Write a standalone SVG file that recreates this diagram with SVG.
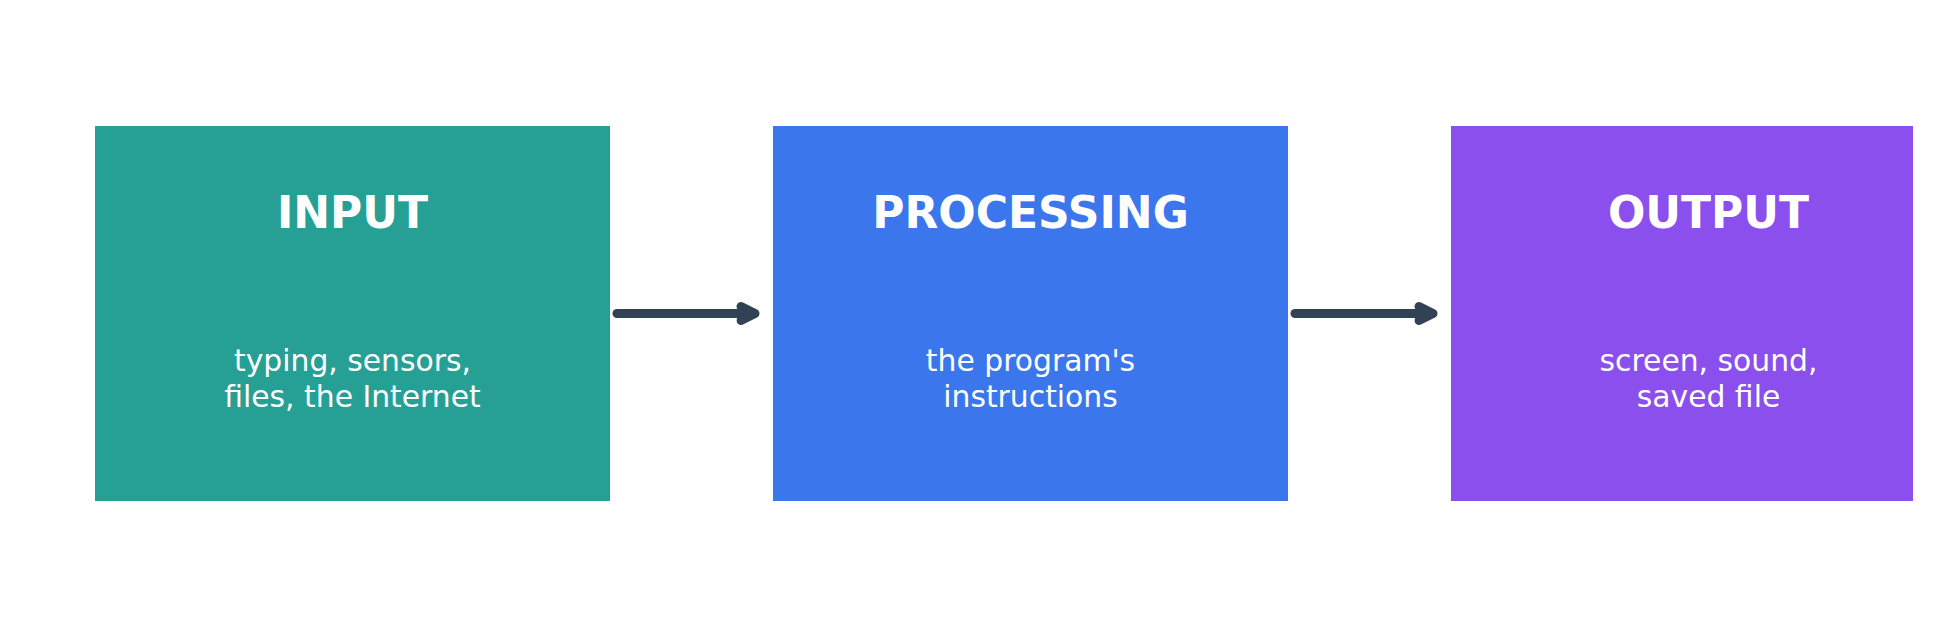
<svg xmlns="http://www.w3.org/2000/svg" width="1953" height="628" viewBox="0 0 1953 628">
<style>
.title{font-family:"DejaVu Sans",sans-serif;font-weight:bold;font-size:44px;fill:#ffffff;text-anchor:middle}
.body{font-family:"DejaVu Sans",sans-serif;font-size:29.8px;fill:#ffffff;text-anchor:middle}
.conn{fill:none;stroke:#334155;stroke-width:9;stroke-linecap:round;stroke-linejoin:round}
</style>
<rect width="1953" height="628" fill="#ffffff"/>
<g id="input">
<rect x="95" y="126" width="515" height="375" fill="#26a095"/>
<text class="title" x="352.5" y="228">INPUT</text>
<text class="body" x="352.5" y="371">typing, sensors,</text>
<text class="body" x="352.5" y="407">files, the Internet</text>
</g>
<g id="processing">
<rect x="773" y="126" width="515" height="375" fill="#3c76ed"/>
<text class="title" x="1030.5" y="228">PROCESSING</text>
<text class="body" x="1030.5" y="371">the program's</text>
<text class="body" x="1030.5" y="407">instructions</text>
</g>
<g id="output">
<rect x="1451" y="126" width="462" height="375" fill="#8a4fec"/>
<text class="title" x="1708.5" y="228">OUTPUT</text>
<text class="body" x="1708.5" y="371">screen, sound,</text>
<text class="body" x="1708.5" y="407">saved file</text>
</g>
<g id="connectors">
<path class="conn" d="M617 313.5H752"/>
<path class="conn" d="M741 306.5L755 313.5L741 320.5L745 313.5Z" fill="#334155"/>
<path class="conn" d="M1295 313.5H1430"/>
<path class="conn" d="M1419 306.5L1433 313.5L1419 320.5L1423 313.5Z" fill="#334155"/>
</g>
</svg>
